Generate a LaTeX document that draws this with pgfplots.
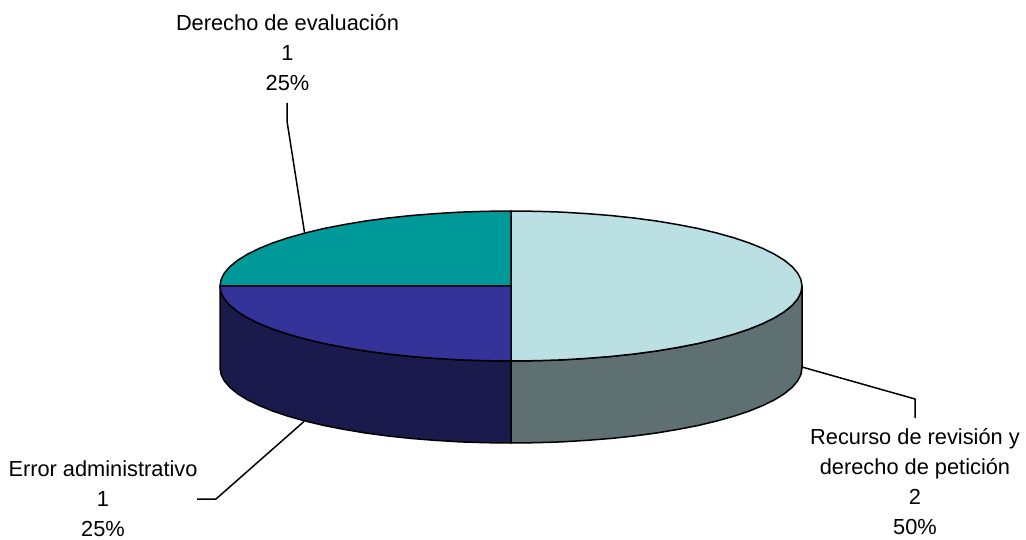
\documentclass[border=0pt]{standalone}
\usepackage{fontspec}
\setmainfont{Liberation Sans}
\usepackage{pgfplots}
\pgfplotsset{compat=1.18}

\definecolor{sliceA}{HTML}{BBE0E3}
\definecolor{sideA}{HTML}{5E7072}
\definecolor{sliceB}{HTML}{009999}
\definecolor{sliceC}{HTML}{333399}
\definecolor{sideC}{HTML}{1A1A4D}

\tikzset{
	lbl/.style={font=\fontsize{21.8}{30}\selectfont, align=center, text=black, inner sep=0pt},
	edge/.style={solid, draw=black, no markers, line join=round, line width=1.5pt},
}

\begin{document}
\begin{tikzpicture}[x=1pt,y=1pt]
\begin{axis}[
	scale only axis,
	width=1026pt,
	height=540pt,
	xmin=0, xmax=1026,
	ymin=0, ymax=540,
	y dir=reverse,
	hide axis,
	clip=false,
]
	% keeps the page at the full picture size
	\addplot[draw=none] coordinates {(0,0) (1026,0) (1026,540) (0,540)};

	% side, right half
	\addplot[edge, fill=sideA] coordinates {
		(802,286) (800.9,292.5) (797.6,299) (792.1,305.4) (784.4,311.7) (774.7,317.7) (763,323.5) (749.4,329) (733.9,334.2) (716.8,339) (698.1,343.5) (677.9,347.4) (656.5,351) (634,354) (610.5,356.5) (586.3,358.4) (561.5,359.9) (536.4,360.7) (511,361)
		(511,443) (536.4,442.7) (561.5,441.9) (586.3,440.4) (610.5,438.5) (634,436) (656.5,433) (677.9,429.4) (698.1,425.5) (716.8,421) (733.9,416.2) (749.4,411) (763,405.5) (774.7,399.7) (784.4,393.7) (792.1,387.4) (797.6,381) (800.9,374.5) (802,368)
	} -- cycle;
	% side, left half
	\addplot[edge, fill=sideC] coordinates {
		(220,286) (221.1,292.5) (224.4,299) (229.9,305.4) (237.6,311.7) (247.3,317.7) (259,323.5) (272.6,329) (288.1,334.2) (305.2,339) (323.9,343.5) (344.1,347.4) (365.5,351) (388,354) (411.5,356.5) (435.7,358.4) (460.5,359.9) (485.6,360.7) (511,361)
		(511,443) (485.6,442.7) (460.5,441.9) (435.7,440.4) (411.5,438.5) (388,436) (365.5,433) (344.1,429.4) (323.9,425.5) (305.2,421) (288.1,416.2) (272.6,411) (259,405.5) (247.3,399.7) (237.6,393.7) (229.9,387.4) (224.4,381) (221.1,374.5) (220,368)
	} -- cycle;

	% top: Recurso de revision y derecho de peticion, 2 (50%)
	\addplot[edge, fill=sliceA] coordinates {
		(511,211) (536.4,211.3) (561.5,212.1) (586.3,213.6) (610.5,215.5) (634,218) (656.5,221) (677.9,224.6) (698.1,228.5) (716.8,233) (733.9,237.8) (749.4,243) (763,248.5) (774.7,254.3) (784.4,260.3) (792.1,266.6) (797.6,273) (800.9,279.5) (802,286)
		(800.9,292.5) (797.6,299) (792.1,305.4) (784.4,311.7) (774.7,317.7) (763,323.5) (749.4,329) (733.9,334.2) (716.8,339) (698.1,343.5) (677.9,347.4) (656.5,351) (634,354) (610.5,356.5) (586.3,358.4) (561.5,359.9) (536.4,360.7) (511,361)
	} -- cycle;
	% top: Derecho de evaluacion, 1 (25%)
	\addplot[edge, fill=sliceB] coordinates {
		(511,286) (220,286) (221.1,279.5) (224.4,273) (229.9,266.6) (237.6,260.3) (247.3,254.3) (259,248.5) (272.6,243) (288.1,237.8) (305.2,233) (323.9,228.5) (344.1,224.6) (365.5,221) (388,218) (411.5,215.5) (435.7,213.6) (460.5,212.1) (485.6,211.3) (511,211)
	} -- cycle;
	% top: Error administrativo, 1 (25%)
	\addplot[edge, fill=sliceC] coordinates {
		(511,286) (220,286) (221.1,292.5) (224.4,299) (229.9,305.4) (237.6,311.7) (247.3,317.7) (259,323.5) (272.6,329) (288.1,334.2) (305.2,339) (323.9,343.5) (344.1,347.4) (365.5,351) (388,354) (411.5,356.5) (435.7,358.4) (460.5,359.9) (485.6,360.7) (511,361)
	} -- cycle;

	% leader lines
	\addplot[edge] coordinates {(287,103) (287,121) (304.5,232.5)};
	\addplot[edge] coordinates {(802,367) (915,399) (915,418)};
	\addplot[edge] coordinates {(197,499) (216,499) (304,421.5)};

	\node[lbl, anchor=center] at (axis cs:287.5,53) {Derecho de evaluación\\1\\25\%};
	\node[lbl, anchor=center] at (axis cs:915,482) {Recurso de revisión y\\derecho de petición\\2\\50\%};
	\node[lbl, anchor=center] at (axis cs:103,499) {Error administrativo\\1\\25\%};
\end{axis}
\end{tikzpicture}
\end{document}
